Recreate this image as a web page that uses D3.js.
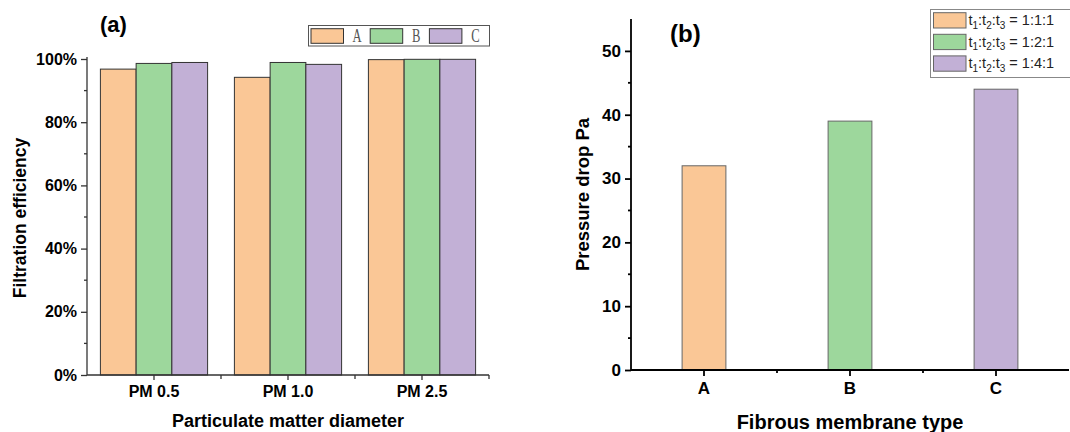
<!DOCTYPE html>
<html>
<head>
<meta charset="utf-8">
<script src="https://cdn.jsdelivr.net/npm/d3@7"></script>
<style>
  html, body { margin: 0; padding: 0; background: #fff; }
  svg { display: block; }
</style>
</head>
<body>
<svg id="chart" width="1070" height="432"></svg>
<script>
// Panel (a): filtration efficiency by particle size
const pmCategories = ["PM 0.5", "PM 1.0", "PM 2.5"];
const membraneSeries = ["A", "B", "C"];
const efficiencyA = [0.968, 0.942, 0.998];
const efficiencyB = [0.986, 0.989, 0.999];
const efficiencyC = [0.989, 0.983, 0.999];
const efficiencyTicks = [0, 0.2, 0.4, 0.6, 0.8, 1.0];

// Panel (b): pressure drop by membrane type
const membraneTypes = ["A", "B", "C"];
const pressureDrop = [32, 39, 44];
const pressureTicks = [0, 10, 20, 30, 40, 50];
const ratioLabels = ["1:1:1", "1:2:1", "1:4:1"];

const colors = ["#fac796", "#9dd79c", "#c2b0d6"];
const SANS = "Liberation Sans, Arial, sans-serif";

const svg = d3.select("#chart").style("font-family", SANS);

function styleText(sel, size, weight) {
  sel.style("font-family", SANS).style("font-size", size + "px")
     .style("font-weight", weight || "bold").style("fill", "#000");
}

// ---------- Panel (a) ----------
{
  const left = 87, right = 489, top = 59, bottom = 375;
  const x0 = d3.scaleBand().domain(pmCategories).range([left, right]);
  const x1 = d3.scaleBand().domain(membraneSeries).range([0, x0.bandwidth() * 0.8]);
  const y = d3.scaleLinear().domain([0, 1]).range([bottom, top]);
  const seriesValues = [efficiencyA, efficiencyB, efficiencyC];
  const g = svg.append("g");

  pmCategories.forEach((cat, i) => {
    const gx = x0(cat) + x0.bandwidth() * 0.1;
    membraneSeries.forEach((s, j) => {
      const v = seriesValues[j][i];
      g.append("rect")
        .attr("x", gx + x1(s))
        .attr("y", y(v))
        .attr("width", x1.bandwidth())
        .attr("height", y(0) - y(v))
        .attr("fill", colors[j])
        .attr("stroke", "#333")
        .attr("stroke-width", 1);
    });
  });

  // y axis
  const yAxis = d3.axisLeft(y).tickValues(efficiencyTicks).tickFormat(d3.format(".0%")).tickSize(6).tickPadding(4);
  const ya = g.append("g").attr("transform", `translate(${left},0)`).call(yAxis);
  ya.select(".domain").attr("stroke", "#333").attr("stroke-width", 1.3).attr("d", `M0,${top - 2}V${bottom}`);
  ya.selectAll(".tick line").attr("stroke", "#333").attr("stroke-width", 1.3);
  styleText(ya.selectAll(".tick text"), 16);
  ya.selectAll(".minor").data(d3.range(0.1, 1, 0.2)).enter().append("line")
    .attr("x1", -3).attr("x2", 0).attr("y1", d => y(d)).attr("y2", d => y(d))
    .attr("stroke", "#333").attr("stroke-width", 1.3);

  // x axis
  const xa = g.append("g").attr("transform", `translate(0,${bottom})`)
    .call(d3.axisBottom(x0).tickSize(5).tickPadding(6));
  xa.select(".domain").attr("stroke", "#333").attr("stroke-width", 1.3).attr("d", `M${left},0H${right}`);
  xa.selectAll(".tick line").attr("stroke", "#333").attr("stroke-width", 1.3);
  styleText(xa.selectAll(".tick text"), 16);
  xa.selectAll(".minor").data(pmCategories.slice(1)).enter().append("line")
    .attr("x1", d => x0(d)).attr("x2", d => x0(d)).attr("y1", 0).attr("y2", 4)
    .attr("stroke", "#333").attr("stroke-width", 1.3);
  xa.append("line").attr("x1", right).attr("x2", right).attr("y1", 0).attr("y2", 4)
    .attr("stroke", "#333").attr("stroke-width", 1.3);

  // titles
  styleText(g.append("text").attr("x", (left + right) / 2).attr("y", 427).attr("text-anchor", "middle")
    .text("Particulate matter diameter"), 18);
  styleText(g.append("text").attr("transform", `translate(26,${(top + bottom) / 2 + 1}) rotate(-90)`)
    .attr("text-anchor", "middle").text("Filtration efficiency"), 17.5);
  styleText(g.append("text").attr("x", 100).attr("y", 32).text("(a)"), 22);

  // legend
  const lg = g.append("g");
  lg.append("rect").attr("x", 308.5).attr("y", 25.5).attr("width", 181).attr("height", 20.5)
    .attr("fill", "#fff").attr("stroke", "#555").attr("stroke-width", 1);
  membraneSeries.forEach((s, j) => {
    const sx = 311 + j * 59.2;
    lg.append("rect").attr("x", sx).attr("y", 28.7).attr("width", 32.5).attr("height", 14.6)
      .attr("fill", colors[j]).attr("stroke", "#333").attr("stroke-width", 1);
    lg.append("text").attr("transform", `translate(${sx + 46},42.3) scale(0.7,1)`).attr("text-anchor", "middle")
      .style("font-family", "Liberation Serif, DejaVu Serif, serif").style("font-size", "18px")
      .style("fill", "#555").text(s);
  });
}

// ---------- Panel (b) ----------
{
  const left = 631, right = 1069, top = 19, bottom = 370;
  const x = d3.scaleBand().domain(membraneTypes).range([left, right]);
  const y = d3.scaleLinear().domain([0, 55]).range([bottom, top]);
  const g = svg.append("g");
  const bw = x.bandwidth() * 0.3;

  membraneTypes.forEach((t, i) => {
    const v = pressureDrop[i];
    g.append("rect")
      .attr("x", x(t) + x.bandwidth() / 2 - bw / 2)
      .attr("y", y(v))
      .attr("width", bw)
      .attr("height", y(0) - y(v))
      .attr("fill", colors[i])
      .attr("stroke", "#666")
      .attr("stroke-width", 1);
  });

  const ya = g.append("g").attr("transform", `translate(${left},0)`)
    .call(d3.axisLeft(y).tickValues(pressureTicks).tickSize(6).tickPadding(4));
  ya.select(".domain").attr("stroke", "#000").attr("stroke-width", 1.8).attr("d", `M0,${top}V${bottom}`);
  ya.selectAll(".tick line").attr("stroke", "#000").attr("stroke-width", 1.8);
  styleText(ya.selectAll(".tick text"), 17);
  ya.selectAll(".minor").data(d3.range(5, 55, 10)).enter().append("line")
    .attr("x1", -3).attr("x2", 0).attr("y1", d => y(d)).attr("y2", d => y(d))
    .attr("stroke", "#000").attr("stroke-width", 1.8);

  const xa = g.append("g").attr("transform", `translate(0,${bottom})`)
    .call(d3.axisBottom(x).tickSize(6).tickPadding(6));
  xa.select(".domain").attr("stroke", "#000").attr("stroke-width", 1.8).attr("d", `M${left},0H${right}`);
  xa.selectAll(".tick line").attr("stroke", "#000").attr("stroke-width", 1.8);
  styleText(xa.selectAll(".tick text"), 17);
  xa.selectAll(".minor").data(membraneTypes.slice(1)).enter().append("line")
    .attr("x1", d => x(d)).attr("x2", d => x(d)).attr("y1", 0).attr("y2", 3)
    .attr("stroke", "#000").attr("stroke-width", 1.8);

  styleText(g.append("text").attr("x", x("B") + x.bandwidth() / 2).attr("y", 429).attr("text-anchor", "middle")
    .text("Fibrous membrane type"), 20);
  styleText(g.append("text").attr("transform", `translate(589,${(top + bottom) / 2}) rotate(-90)`)
    .attr("text-anchor", "middle").text("Pressure drop Pa"), 18.5);
  styleText(g.append("text").attr("x", 670).attr("y", 42).text("(b)"), 24);

  // legend
  const lg = g.append("g");
  lg.append("rect").attr("x", 930.5).attr("y", 9.5).attr("width", 145).attr("height", 68)
    .attr("fill", "#fff").attr("stroke", "#888").attr("stroke-width", 1);
  ratioLabels.forEach((r, i) => {
    const sy = 12.7 + i * 21.6;
    lg.append("rect").attr("x", 933.5).attr("y", sy).attr("width", 32.5).attr("height", 15.3)
      .attr("fill", colors[i]).attr("stroke", "#666").attr("stroke-width", 1);
    const t = lg.append("text").attr("x", 968.5).attr("y", sy + 12.5)
      .style("font-family", SANS).style("font-size", "14.5px").style("fill", "#222");
    t.append("tspan").text("t");
    t.append("tspan").style("font-size", "10px").attr("dy", 3.5).text("1");
    t.append("tspan").attr("dy", -3.5).text(":t");
    t.append("tspan").style("font-size", "10px").attr("dy", 3.5).text("2");
    t.append("tspan").attr("dy", -3.5).text(":t");
    t.append("tspan").style("font-size", "10px").attr("dy", 3.5).text("3");
    t.append("tspan").attr("dy", -3.5).text(" = " + r);
  });
}
</script>
</body>
</html>
